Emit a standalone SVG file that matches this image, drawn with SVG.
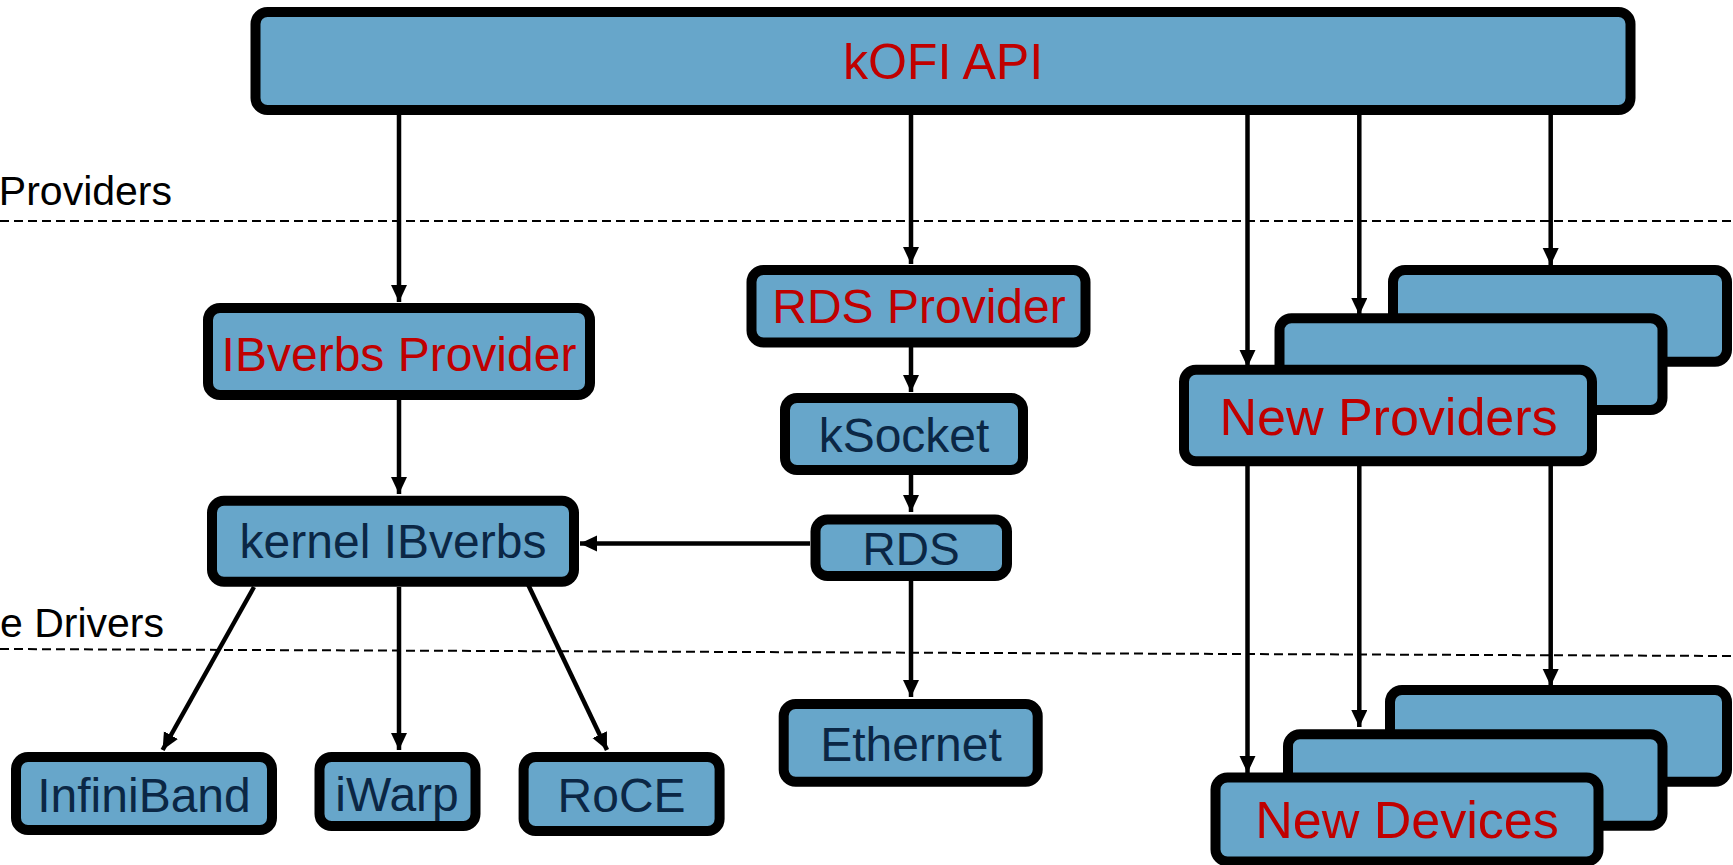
<svg xmlns="http://www.w3.org/2000/svg" width="1733" height="865" viewBox="0 0 1733 865">
<style>
.box{fill:#67a6ca;stroke:#000;stroke-width:10}
.t{font-family:"Liberation Sans",Arial,sans-serif;text-anchor:middle}
.red{fill:#c00000}
.navy{fill:#0b2745}
.lbl{font-family:"Liberation Sans",Arial,sans-serif;font-size:41px;fill:#000;text-anchor:end}
.dash{stroke:#000;stroke-width:2;stroke-dasharray:9 5;fill:none}
.c{stroke:#000;stroke-width:4.5;fill:none;marker-end:url(#ah)}
</style>
<defs>
<marker id="ah" markerUnits="userSpaceOnUse" markerWidth="18" markerHeight="17" refX="17" refY="8" orient="auto" viewBox="0 0 18 17">
<path d="M0,0 L17,8 L0,16 z" fill="#000"/>
</marker>
</defs>
<rect width="1733" height="865" fill="#fff"/>
<g id="layers">
<line class="dash" x1="0" y1="221" x2="1733" y2="221"/>
<line class="dash" x1="0" y1="649" x2="1733" y2="656"/>
<text class="lbl" x="172" y="205">Providers</text>
<text class="lbl" x="164" y="637">e Drivers</text>
</g>
<g id="connectors">
<line class="c" x1="399" y1="115" x2="399" y2="302"/>
<line class="c" x1="911" y1="115" x2="911" y2="264"/>
<line class="c" x1="911" y1="347" x2="911" y2="392"/>
<line class="c" x1="911" y1="475" x2="911" y2="512"/>
<line class="c" x1="810" y1="543.5" x2="580" y2="543.5"/>
<line class="c" x1="399" y1="400" x2="399" y2="494"/>
<line class="c" x1="911" y1="581" x2="911" y2="697"/>
<line class="c" x1="254" y1="587" x2="162.6" y2="750"/>
<line class="c" x1="399" y1="587" x2="399" y2="750"/>
<line class="c" x1="528.3" y1="585" x2="607" y2="750"/>
<line class="c" x1="1247.5" y1="115" x2="1247.5" y2="367"/>
<line class="c" x1="1359.3" y1="115" x2="1359.3" y2="315"/>
<line class="c" x1="1550.7" y1="115" x2="1550.7" y2="265"/>
<line class="c" x1="1247.5" y1="466" x2="1247.5" y2="773"/>
<line class="c" x1="1359.3" y1="466" x2="1359.3" y2="727"/>
<line class="c" x1="1550.7" y1="466" x2="1550.7" y2="686"/>
</g>
<g id="kofi-api">
<rect class="box" x="255.5" y="12" width="1375" height="98" rx="12"/>
<text class="t red" x="943" y="79" font-size="50">kOFI API</text>
</g>
<g id="ibverbs-provider">
<rect class="box" x="208" y="308" width="382" height="87" rx="12"/>
<text class="t red" x="399" y="371" font-size="48">IBverbs Provider</text>
</g>
<g id="rds-provider">
<rect class="box" x="751.5" y="270" width="334" height="72.5" rx="12"/>
<text class="t red" x="919" y="323" font-size="48">RDS Provider</text>
</g>
<g id="ksocket">
<rect class="box" x="785" y="398" width="238" height="72" rx="12"/>
<text class="t navy" x="904" y="452" font-size="48">kSocket</text>
</g>
<g id="rds">
<rect class="box" x="815.5" y="519.5" width="191.5" height="56.5" rx="12"/>
<text class="t navy" x="911" y="565" font-size="46">RDS</text>
</g>
<g id="ethernet">
<rect class="box" x="783.7" y="704" width="254" height="77.7" rx="12"/>
<text class="t navy" x="911" y="761" font-size="48">Ethernet</text>
</g>
<g id="kernel-ibverbs">
<rect class="box" x="212" y="500.7" width="362" height="81" rx="12"/>
<text class="t navy" x="393" y="558" font-size="48">kernel IBverbs</text>
</g>
<g id="infiniband">
<rect class="box" x="16" y="757" width="256" height="73" rx="12"/>
<text class="t navy" x="144" y="812" font-size="48">InfiniBand</text>
</g>
<g id="iwarp">
<rect class="box" x="319.5" y="757" width="156" height="69" rx="12"/>
<text class="t navy" x="397" y="811" font-size="48">iWarp</text>
</g>
<g id="roce">
<rect class="box" x="523.6" y="757" width="196" height="74" rx="12"/>
<text class="t navy" x="621.6" y="812" font-size="48">RoCE</text>
</g>
<g id="new-providers">
<rect class="box" x="1393" y="270" width="334" height="91.7" rx="12"/>
<rect class="box" x="1279.5" y="318.3" width="383" height="91.7" rx="12"/>
<rect class="box" x="1184" y="369.7" width="408" height="91.6" rx="12"/>
<text class="t red" x="1388.5" y="435" font-size="52">New Providers</text>
</g>
<g id="new-devices">
<rect class="box" x="1390" y="690" width="337" height="91.7" rx="12"/>
<rect class="box" x="1288" y="734.3" width="374.5" height="91.4" rx="12"/>
<rect class="box" x="1215.5" y="777.5" width="383" height="84" rx="12"/>
<text class="t red" x="1407" y="838" font-size="52">New Devices</text>
</g>
</svg>
